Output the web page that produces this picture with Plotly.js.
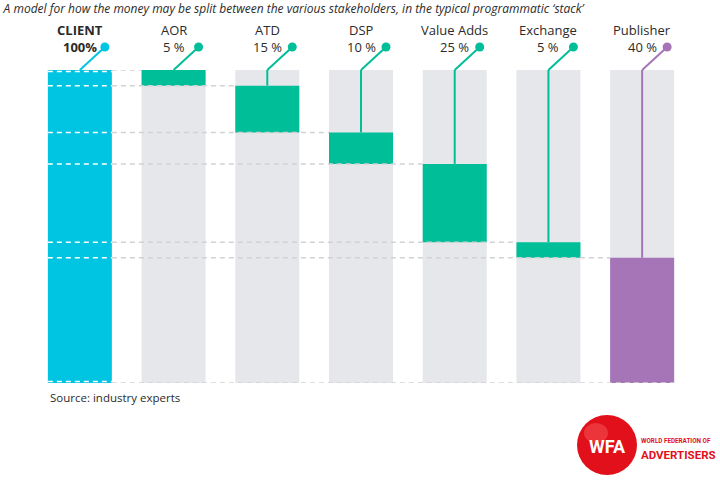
<!DOCTYPE html>
<html><head><meta charset="utf-8">
<script src="https://cdn.plot.ly/plotly-3.0.1.min.js"></script>
<style>html,body{margin:0;padding:0;background:#fff}#chart{width:720px;height:484px}</style>
</head><body><div id="chart"></div>
<script>
const categories = ['CLIENT','AOR','ATD','DSP','Value Adds','Exchange','Publisher'];
const shares = [100, 5, 15, 10, 25, 5, 40];
const pctLabels = ['100%','5 %','15 %','10 %','25 %','5 %','40 %'];
const colors = ['#00c5e2','#00be98','#00be98','#00be98','#00be98','#00be98','#a575b8'];
const titleText = 'A model for how the money may be split between the various stakeholders, in the typical programmatic \u2018stack\u2019';
const sourceText = 'Source: industry experts';

// derived stacking
const tops = [], bases = [];
let remaining = 100;
categories.forEach((c, i) => {
  if (i === 0) { tops.push(100); bases.push(0); }
  else { tops.push(remaining); bases.push(remaining - shares[i]); remaining -= shares[i]; }
});

const barFrac = 0.683, hw = barFrac / 2;
const H = 484, plotTop = 70, plotBot = 383, plotH = plotBot - plotTop;
const L = 33, R = 31, plotW = 720 - L - R;
const py = p => (plotBot - p) / plotH;        // pixel y -> paper y
const px = p => (p - L) / plotW;              // pixel x -> paper x

const traces = [
  { type: 'bar', x: categories.slice(1), y: categories.slice(1).map(() => 100), base: 0,
    marker: { color: '#e6e7ea', line: { width: 0 } }, hoverinfo: 'skip', showlegend: false },
  { type: 'bar', x: categories, y: shares, base: bases,
    marker: { color: colors, line: { width: 0 } }, hoverinfo: 'skip', showlegend: false }
];

const shapes = [];
const annotations = [];
// dashed level lines
const levels = [];
for (let i = 1; i < categories.length; i++) levels.push({ v: tops[i], to: i - hw });
levels.push({ v: 0, to: categories.length - 1 + hw });
levels.forEach(l => {
  shapes.push({ type: 'line', xref: 'x', yref: 'y', x0: hw, x1: l.to, y0: l.v, y1: l.v,
    line: { color: '#d2d2d4', width: 1.5, dash: '5px,4px' }, layer: 'above' });
  const vv = l.v === 100 ? 99.5 : (l.v === 0 ? 0.5 : l.v);
  shapes.push({ type: 'line', xref: 'x', yref: 'y', x0: -hw, x1: hw, y0: vv, y1: vv,
    line: { color: '#ffffff', width: 1.5, dash: '5px,4px' }, layer: 'above' });
});

// leader lines, dots, labels
const dotOff = 25 / (plotW / categories.length);
categories.forEach((c, i) => {
  const col = colors[i];
  shapes.push({ type: 'line', xref: 'x', yref: 'paper', x0: i + dotOff, y0: py(47), x1: i, y1: 1,
    line: { color: col, width: 2 } });
  if (i > 0) {
    shapes.push({ type: 'line', xref: 'x', yref: 'paper', x0: i, y0: 1, x1: i, y1: (tops[i]) / 100,
      line: { color: col, width: 2 }, layer: 'above' });
  }
  shapes.push({ type: 'circle', xref: 'x', yref: 'paper', xsizemode: 'pixel', ysizemode: 'pixel',
    xanchor: i + dotOff, yanchor: py(47), x0: -4.5, x1: 4.5, y0: -4.5, y1: 4.5,
    fillcolor: col, line: { width: 0 } });
  const bold = i === 0;
  annotations.push({ xref: 'x', yref: 'paper', x: i, y: py(30), text: bold ? '<b>' + c + '</b>' : c,
    showarrow: false, xanchor: 'center', yanchor: 'middle',
    font: { family: 'Open Sans, sans-serif', size: 13, color: '#2b2b2b' } });
  annotations.push({ xref: 'x', yref: 'paper', x: i, y: py(47), text: bold ? '<b>' + pctLabels[i] + '</b>' : pctLabels[i],
    showarrow: false, xanchor: 'center', yanchor: 'middle',
    font: { family: 'Open Sans, sans-serif', size: 13, color: '#2b2b2b' } });
});

annotations.push({ xref: 'paper', yref: 'paper', x: px(48), y: py(397), text: sourceText,
  showarrow: false, xanchor: 'left', yanchor: 'middle',
  font: { family: 'Open Sans, sans-serif', size: 11.5, color: '#2b2b2b' } });

// WFA logo
shapes.push({ type: 'circle', xref: 'paper', yref: 'paper', xsizemode: 'pixel', ysizemode: 'pixel',
  xanchor: px(607), yanchor: py(445), x0: -30, x1: 30, y0: -30, y1: 30,
  fillcolor: '#e2101b', line: { width: 0 } });
shapes.push({ type: 'circle', xref: 'paper', yref: 'paper', xsizemode: 'pixel', ysizemode: 'pixel',
  xanchor: px(596), yanchor: py(433), x0: -12, x1: 12, y0: -10, y1: 10,
  fillcolor: 'rgba(255,120,120,0.35)', line: { width: 0 } });
annotations.push({ xref: 'paper', yref: 'paper', x: px(607), y: py(446), text: '<b>WFA</b>',
  showarrow: false, xanchor: 'center', yanchor: 'middle',
  font: { family: 'Roboto, sans-serif', size: 18, color: '#ffffff' } });
annotations.push({ xref: 'paper', yref: 'paper', x: px(639), y: py(441), text: '<b>WORLD FEDERATION OF</b>',
  showarrow: false, xanchor: 'left', yanchor: 'middle',
  font: { family: 'Roboto, sans-serif', size: 6.3, color: '#e2101b' } });
annotations.push({ xref: 'paper', yref: 'paper', x: px(639), y: py(455), text: '<b>ADVERTISERS</b>',
  showarrow: false, xanchor: 'left', yanchor: 'middle',
  font: { family: 'Roboto, sans-serif', size: 11.5, color: '#e2101b' } });

const layout = {
  width: 720, height: 484,
  margin: { l: L, r: R, t: plotTop, b: H - plotBot, pad: 0 },
  paper_bgcolor: '#ffffff', plot_bgcolor: '#ffffff',
  title: { text: '<i>' + titleText + '</i>', xref: 'container', x: 0.005, xanchor: 'left',
    yref: 'container', y: 1 - 9 / H, yanchor: 'middle',
    font: { family: 'Open Sans, sans-serif', size: 12, color: '#2b2b2b' } },
  barmode: 'overlay', bargap: 1 - barFrac,
  xaxis: { type: 'category', categoryarray: categories, range: [-0.5, categories.length - 0.5],
    showgrid: false, zeroline: false, showticklabels: false, showline: false, ticks: '', fixedrange: true },
  yaxis: { range: [0, 100], showgrid: false, zeroline: false, showticklabels: false, showline: false, ticks: '', fixedrange: true },
  shapes: shapes, annotations: annotations, showlegend: false
};
Plotly.newPlot('chart', traces, layout, { displayModeBar: false, staticPlot: true });
</script></body></html>
